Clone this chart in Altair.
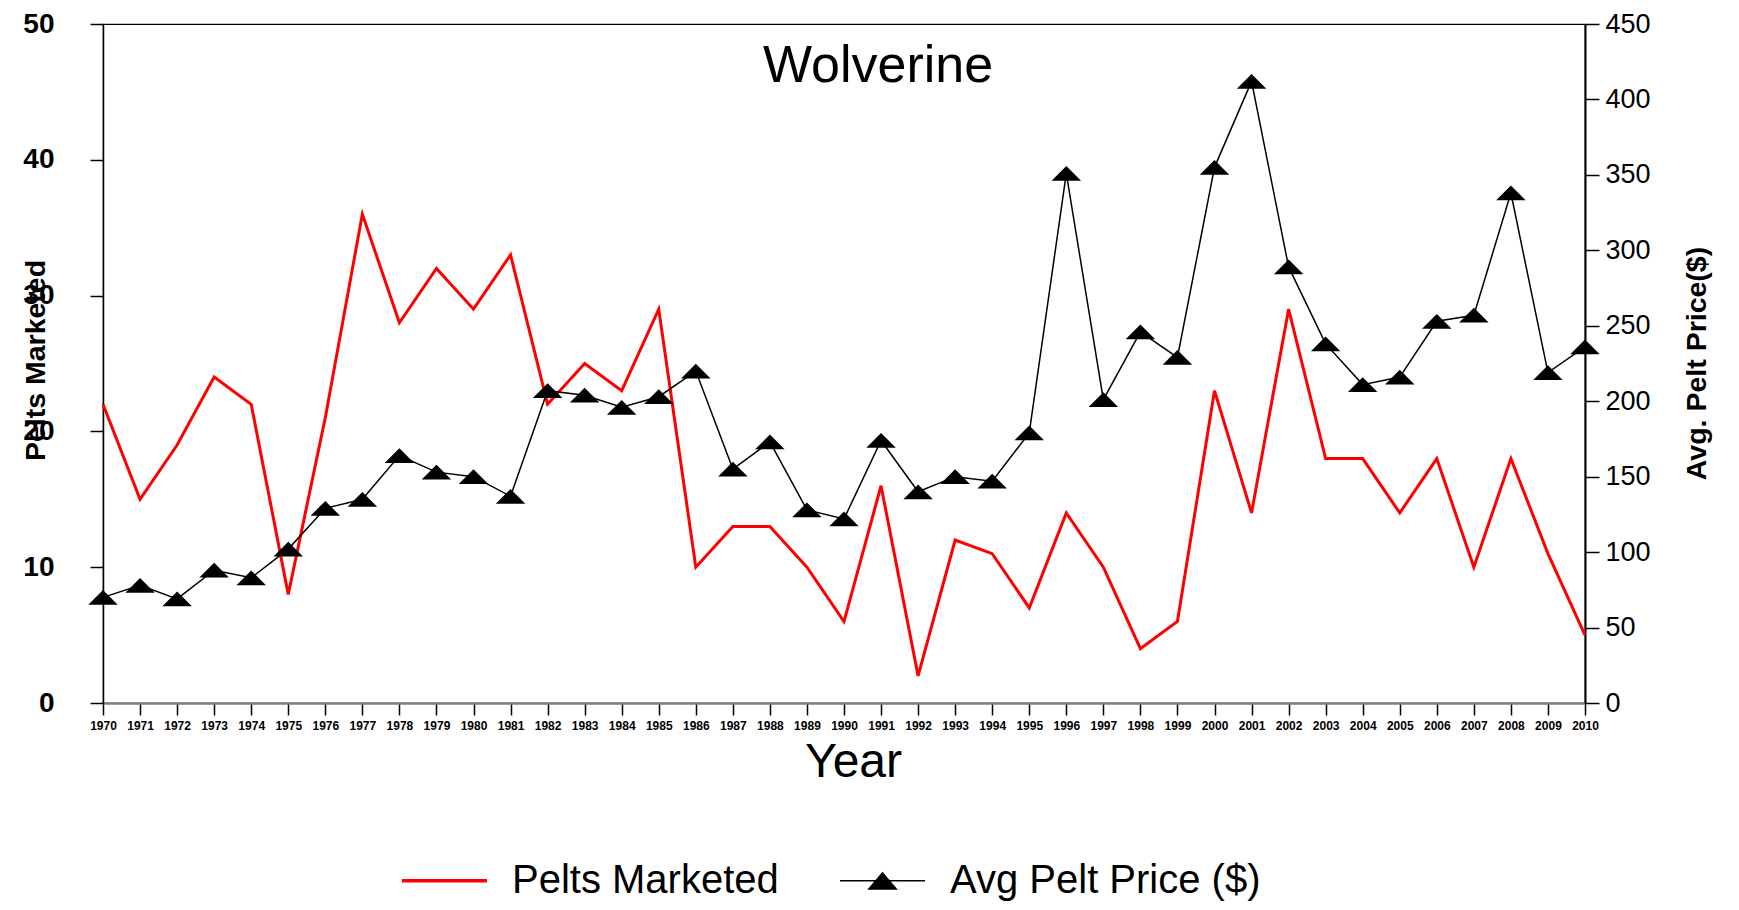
import altair as alt
import pandas as pd

years = list(range(1970, 2011))
pelts = [22, 15, 19, 24, 22, 8, 21, 36, 28, 32, 29, 33, 22, 25, 23, 29, 10, 13, 13, 10,
         6, 16, 2, 12, 11, 7, 14, 10, 4, 6, 23, 14, 29, 18, 18, 14, 18, 10, 18, 11, 5]
price = [70, 78, 69, 88, 83, 102, 129, 135, 164, 153, 150, 137, 207, 204, 196, 203, 220,
         155, 173, 128, 122, 174, 140, 150, 147, 179, 351, 201, 246, 229, 355, 412, 289,
         238, 211, 216, 253, 257, 338, 219, 236]
series_names = ["Pelts Marketed", "Avg Pelt Price ($)"]
series_colors = ["#ff0000", "#000000"]
left_ticks = [0, 10, 20, 30, 40, 50]
right_ticks = [0, 50, 100, 150, 200, 250, 300, 350, 400, 450]

FONT = "Liberation Sans, Arial, sans-serif"

TRI = "M-1,0.5L0,-0.5L1,0.5Z"
LEG_RED = "M-1,-0.04H1V0.04H-1Z"
LEG_BLACK = "M-1,-0.02H1V0.02H-1ZM-0.36,0.21L0,-0.21L0.36,0.21Z"

df = pd.DataFrame({"Year": years, "Pelts": pelts, "Price": price})
df_leg = pd.DataFrame({"series": series_names, "Year": [float("nan"), float("nan")]})

H = 679

x_enc = alt.X(
    "Year:Q",
    scale=alt.Scale(domain=[1970, 2010], nice=False, zero=False),
    axis=alt.Axis(
        values=years, format="d", labelFont=FONT, labelFontSize=12, labelFontWeight="bold",
        labelAngle=0, labelPadding=5, labelOverlap=False, labelFlush=False, labelColor="black",
        tickSize=12, tickColor="black", tickWidth=1.5,
        domainColor="#808080", domainWidth=2.5, grid=False,
        title="Year", titleFont=FONT, titleFontSize=48, titleFontWeight="normal",
        titleColor="black", titleX=750, titleY=73, titleBaseline="alphabetic", titleAlign="center",
    ),
)

left_axis = alt.Axis(
    orient="left", values=left_ticks, grid=False,
    labelFont=FONT, labelFontSize=28, labelFontWeight="bold", labelColor="black",
    labelPadding=36, labelOverlap=False,
    tickSize=13, tickWidth=1.5, tickColor="black", domainColor="black", domainWidth=1.5,
    title="Pelts Marketed", titleFont=FONT, titleFontSize=28.5, titleFontWeight="bold",
    titleColor="black", titleX=-68, titleY=336, titleAngle=270, titleAlign="center",
    titleBaseline="middle",
)

right_axis = alt.Axis(
    orient="right", values=right_ticks, grid=False,
    labelFont=FONT, labelFontSize=27, labelFontWeight="normal", labelColor="black",
    labelPadding=6, labelOverlap=False,
    tickSize=14, tickWidth=1.5, tickColor="black", domainColor="black", domainWidth=2,
    title="Avg. Pelt Price($)", titleFont=FONT, titleFontSize=28.5, titleFontWeight="bold",
    titleColor="black", titleX=111, titleY=339, titleAngle=270, titleAlign="center",
    titleBaseline="middle",
)

y_price = alt.Y("Price:Q", scale=alt.Scale(domain=[0, 450], nice=False), axis=right_axis)

red_line = alt.Chart(df).mark_line(color="#ff0000", strokeWidth=3).encode(
    x=x_enc,
    y=alt.Y("Pelts:Q", scale=alt.Scale(domain=[0, 50], nice=False), axis=left_axis),
)

black_line = alt.Chart(df).mark_line(color="#000000", strokeWidth=1.5).encode(x=x_enc, y=y_price)
black_pts = alt.Chart(df).mark_point(shape=TRI, filled=True, size=870, color="#000000", opacity=1).encode(
    x=x_enc, y=y_price
)
price_layer = alt.layer(black_line, black_pts)

leg = alt.Legend(
    orient="none", legendX=299, legendY=814, direction="horizontal", title=None,
    labelFont=FONT, labelFontSize=40, labelColor="black", labelLimit=600,
    symbolSize=7225, labelOffset=25, columnPadding=61, padding=0,
    symbolStrokeWidth=0, symbolOpacity=1,
)

legend_layer = alt.Chart(df_leg).mark_point(filled=True, size=7225, opacity=1).encode(
    x=x_enc,
    color=alt.Color("series:N", scale=alt.Scale(domain=series_names, range=series_colors), legend=leg),
    shape=alt.Shape("series:N", scale=alt.Scale(domain=series_names, range=[LEG_RED, LEG_BLACK]), legend=leg),
)

chart = alt.layer(red_line, price_layer, legend_layer).resolve_scale(y="independent").properties(
    width=1482,
    height=H,
    autosize=alt.AutoSizeParams(type="none"),
    padding={"left": 95, "top": 16, "right": 146, "bottom": 199},
    background="white",
    title=alt.TitleParams(
        "Wolverine", font=FONT, fontSize=52, fontWeight="normal", color="black",
        anchor="middle", baseline="alphabetic", offset=0, dx=34, dy=124,
    ),
).configure_view(stroke="black", strokeWidth=1.2)

chart.save("out.html", embed_options={"renderer": "svg", "actions": False})
